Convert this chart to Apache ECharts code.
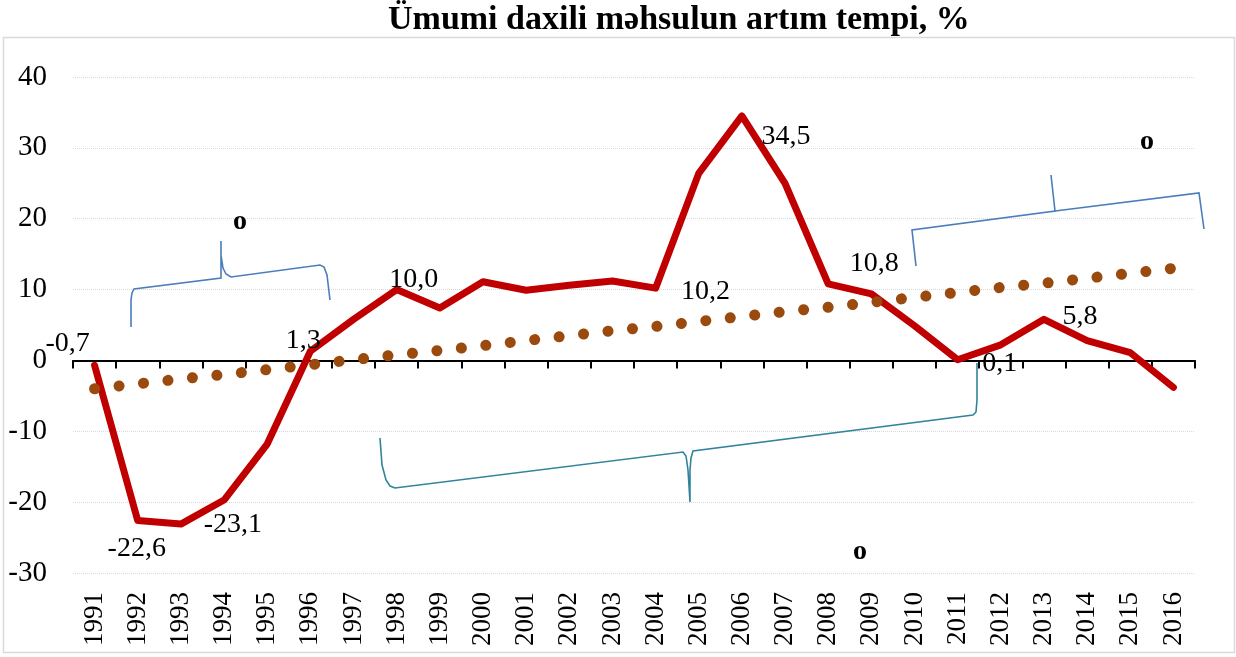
<!DOCTYPE html>
<html>
<head>
<meta charset="utf-8">
<script src="https://cdn.jsdelivr.net/npm/echarts@6/dist/echarts.min.js"></script>
<style>
html, body { margin: 0; padding: 0; background: #fff; }
#container { width: 1236px; height: 657px; }
</style>
</head>
<body>
<div id="container"></div>
<script>
let dom = document.getElementById("container");
let myChart = echarts.init(dom);

const years = ['1991', '1992', '1993', '1994', '1995', '1996', '1997', '1998', '1999', '2000',
    '2001', '2002', '2003', '2004', '2005', '2006', '2007', '2008', '2009', '2010',
    '2011', '2012', '2013', '2014', '2015', '2016'];
const growth = [-0.7, -22.6, -23.1, -19.7, -11.8, 1.3, 5.8, 10.0, 7.4, 11.1,
    9.9, 10.6, 11.2, 10.2, 26.4, 34.5, 25.0, 10.8, 9.4, 4.9,
    0.1, 2.2, 5.8, 2.8, 1.1, -3.8];
const trend = [-4.0, -3.3, -2.6, -2.0, -1.3, -0.6, 0.1, 0.8, 1.4, 2.1,
    2.8, 3.5, 4.2, 4.8, 5.5, 6.2, 6.9, 7.5, 8.2, 8.9,
    9.6, 10.3, 10.9, 11.6, 12.3, 13.0];
const yTicks = {min: -30, max: 40, interval: 10};
const titleText = 'Ümumi daxili məhsulun artım tempi, %';
const noteText = 'o';

const serif = 'Liberation Serif';
const red = '#C00000';
const brown = '#9A4A0C';

// where each shown data label sits, relative to its point
const labelOffsets = {
    0: [-27, -22],
    1: [-1, 28],
    2: [52, 1],
    5: [-7, -11],
    7: [17, -10],
    13: [50, 3],
    15: [44, 21],
    17: [46, -20],
    20: [42, 4],
    22: [36, -3]
};

function fmt(v) {
    return v.toFixed(1).replace('.', ',');
}

let growthData = growth.map(function (v, i) {
    let item = {value: v};
    if (labelOffsets[i]) {
        item.label = {
            show: true,
            position: 'inside',
            offset: labelOffsets[i],
            formatter: fmt(v)
        };
    }
    return item;
});

function noteMark(x, y) {
    return {
        type: 'text',
        x: x,
        y: y,
        z: 10,
        style: {
            text: noteText,
            font: 'bold 28px "' + serif + '"',
            fill: '#000',
            textAlign: 'center',
            textVerticalAlign: 'middle'
        }
    };
}

// curly bracket drawn as a thin polyline
function brace(points, color) {
    return {
        type: 'polyline',
        z: 10,
        shape: {points: points},
        style: {fill: null, stroke: color, lineWidth: 1.6}
    };
}

let option = {
    backgroundColor: '#fff',
    animation: false,
    title: {
        text: titleText,
        left: 388,
        top: 3,
        padding: 0,
        textStyle: {
            fontFamily: serif,
            fontWeight: 'bold',
            fontSize: 34,
            color: '#000'
        }
    },
    grid: {
        left: 73,
        right: 41,
        top: 77,
        bottom: 84,
        containLabel: false,
        outerBoundsMode: 'none'
    },
    xAxis: [{
        type: 'category',
        data: years,
        position: 'bottom',
        axisLine: {onZero: true, lineStyle: {color: '#000', width: 2}},
        axisTick: {show: true, length: 8, interval: 0, lineStyle: {color: '#000', width: 2}},
        axisLabel: {show: false},
        splitLine: {show: false}
    }, {
        type: 'category',
        data: years,
        position: 'bottom',
        axisLine: {show: false, onZero: false},
        axisTick: {show: false},
        splitLine: {show: false},
        axisLabel: {
            interval: 0,
            rotate: 90,
            margin: 19,
            fontFamily: serif,
            fontSize: 27,
            color: '#000'
        }
    }],
    yAxis: {
        type: 'value',
        min: yTicks.min,
        max: yTicks.max,
        interval: yTicks.interval,
        axisLine: {show: false},
        axisTick: {show: false},
        axisLabel: {
            margin: 26,
            fontFamily: serif,
            fontSize: 29,
            color: '#000'
        },
        splitLine: {lineStyle: {color: '#d9d9d9', type: 'dotted', width: 1}}
    },
    series: [{
        type: 'line',
        data: growthData,
        symbol: 'circle',
        symbolSize: 1,
        itemStyle: {color: red},
        lineStyle: {color: red, width: 7, cap: 'round', join: 'round'},
        label: {
            fontFamily: serif,
            fontSize: 28,
            color: '#000'
        },
        z: 3
    }, {
        type: 'line',
        data: trend,
        symbol: 'none',
        lineStyle: {color: brown, width: 11, type: [0.1, 24.5], cap: 'round'},
        z: 4
    }],
    graphic: [
        {
            type: 'rect',
            z: -1,
            shape: {x: 3.5, y: 37.5, width: 1231, height: 615},
            style: {fill: null, stroke: '#d9d9d9', lineWidth: 1.5}
        },
        brace([[131, 327], [131, 300], [132, 293], [134, 289], [221, 278], [221, 241],
            [221, 255], [223, 268], [226, 274], [231, 277], [320, 265], [324, 267],
            [327, 275], [330, 300]], '#4A7EBB'),
        brace([[916, 266], [912, 230], [1055, 211], [1051, 175]], '#4A7EBB'),
        brace([[1055, 211], [1199, 193], [1204, 229]], '#4A7EBB'),
        brace([[380, 438], [382, 465], [386, 480], [390, 486], [395, 488], [683, 452],
            [686, 456], [688, 470], [690, 502], [690, 470], [691, 458], [693, 451],
            [973, 415], [976, 412], [977, 400], [977, 363]], '#31849B'),
        noteMark(240, 222),
        noteMark(1147, 142),
        noteMark(860, 552)
    ]
};

if (option && typeof option === "object") {
    myChart.setOption(option, true);
}
</script>
</body>
</html>
